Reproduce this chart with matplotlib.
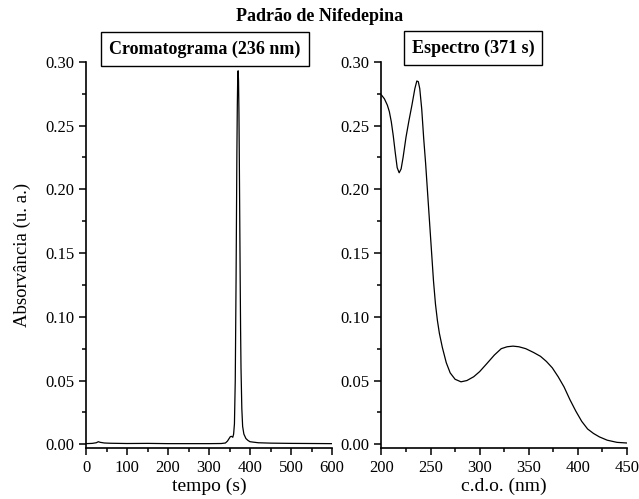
import numpy as np
import matplotlib.pyplot as plt
from matplotlib.ticker import MultipleLocator

plt.rcParams['font.family'] = ['Liberation Serif', 'DejaVu Serif']

# Chromatogram at 236 nm (time in s, absorbance)
tempo = [0, 15, 25, 30, 35, 45, 60, 100, 150, 200, 250, 300, 330, 340, 345,
         349, 352, 355, 358, 360, 362, 364, 366, 367, 368, 369, 370, 371,
         372, 373, 374, 375, 376, 377, 378, 380, 382, 385, 390, 395, 400,
         420, 450, 500, 550, 600]
abs_crom = [0.0005, 0.0007, 0.0012, 0.0020, 0.0015, 0.0010, 0.0008, 0.0006,
            0.0007, 0.0005, 0.0005, 0.0005, 0.0006, 0.0010, 0.0025, 0.0045,
            0.0060, 0.0062, 0.0055, 0.0080, 0.0160, 0.0500, 0.1300, 0.1800,
            0.2300, 0.2650, 0.2880, 0.2930, 0.2850, 0.2600, 0.2200, 0.1750,
            0.1300, 0.0900, 0.0600, 0.0280, 0.0140, 0.0080, 0.0045, 0.0030,
            0.0020, 0.0012, 0.0009, 0.0007, 0.0006, 0.0005]

# UV spectrum at 371 s (wavelength in nm, absorbance)
cdo = [200, 203, 206, 208, 210, 212, 214, 216, 218, 220, 222, 225, 228, 231,
       234, 236, 237.5, 239, 241, 243, 245, 247, 249, 251, 253, 255, 257,
       259, 262, 266, 270, 275, 281, 287, 294, 300, 307, 315, 322, 328, 334,
       340, 347, 355, 362, 368, 374, 380, 386, 392, 398, 404, 410, 416, 422,
       430, 440, 450]
abs_esp = [0.274, 0.271, 0.266, 0.261, 0.253, 0.242, 0.229, 0.217, 0.213,
           0.216, 0.225, 0.241, 0.254, 0.266, 0.279, 0.285, 0.2845, 0.279,
           0.263, 0.240, 0.220, 0.197, 0.174, 0.151, 0.128, 0.110, 0.097,
           0.087, 0.076, 0.064, 0.056, 0.051, 0.049, 0.050, 0.053, 0.057,
           0.063, 0.070, 0.075, 0.0765, 0.077, 0.0765, 0.075, 0.072, 0.069,
           0.065, 0.060, 0.053, 0.045, 0.035, 0.026, 0.018, 0.012, 0.0085,
           0.0058, 0.0032, 0.0015, 0.001]

fig = plt.figure(figsize=(6.39, 4.99), dpi=100)
ax1 = fig.add_axes([0.1346, 0.102, 0.385, 0.774])
ax2 = fig.add_axes([0.597, 0.102, 0.384, 0.774])


def style_axis(ax):
    for side in ('top', 'right'):
        ax.spines[side].set_visible(False)
    for side in ('left', 'bottom'):
        ax.spines[side].set_linewidth(1.2)
    ax.tick_params(which='major', direction='out', length=5, width=1.1,
                   labelsize=12, colors='black')
    ax.tick_params(which='minor', direction='out', length=3, width=1.1)
    ax.set_ylim(-0.003, 0.30)
    ax.yaxis.set_major_locator(MultipleLocator(0.05))
    ax.yaxis.set_minor_locator(MultipleLocator(0.025))
    ax.yaxis.set_major_formatter(plt.FormatStrFormatter('%.2f'))


box = dict(boxstyle='square,pad=0.45', fc='white', ec='black', lw=1)

ax1.plot(tempo, abs_crom, color='black', lw=0.9)
style_axis(ax1)
ax1.set_xlim(0, 600)
ax1.xaxis.set_major_locator(MultipleLocator(100))
ax1.xaxis.set_minor_locator(MultipleLocator(50))
ax1.set_xlabel('tempo (s)', fontsize=14, labelpad=1)
ax1.set_ylabel('Absorvância (u. a.)', fontsize=13.5, labelpad=10)
ax1.text(0.483, 1.033, 'Cromatograma (236 nm)', transform=ax1.transAxes,
         ha='center', va='center', fontsize=13, fontweight='bold', bbox=box)

ax2.plot(cdo, abs_esp, color='black', lw=0.9)
style_axis(ax2)
ax2.set_xlim(200, 450)
ax2.xaxis.set_major_locator(MultipleLocator(50))
ax2.xaxis.set_minor_locator(MultipleLocator(25))
ax2.set_xlabel('c.d.o. (nm)', fontsize=14, labelpad=1)
ax2.text(0.373, 1.036, 'Espectro (371 s)', transform=ax2.transAxes,
         ha='center', va='center', fontsize=13, fontweight='bold', bbox=box)

fig.text(0.5, 0.966, 'Padrão de Nifedepina', ha='center', va='center',
         fontsize=13, fontweight='bold')

fig.savefig('out.png', dpi=100)
